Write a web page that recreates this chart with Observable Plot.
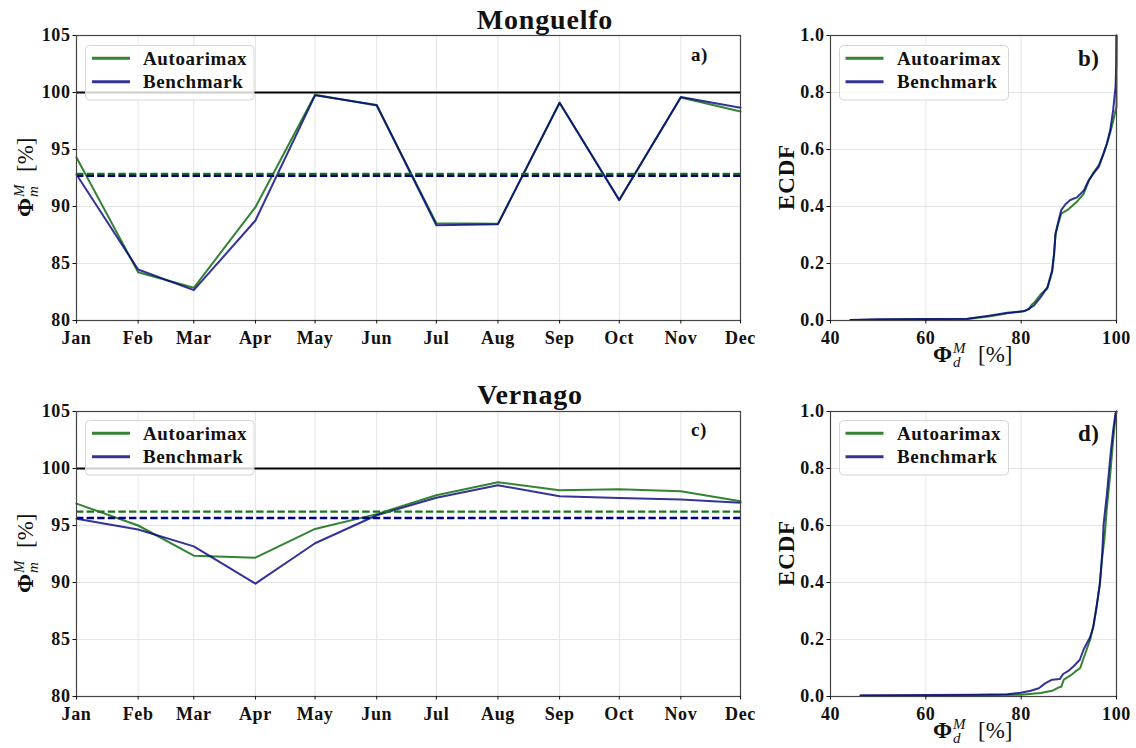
<!DOCTYPE html>
<html>
<head>
<meta charset="utf-8">
<script src="https://cdn.jsdelivr.net/npm/d3@7"></script>
<script src="https://cdn.jsdelivr.net/npm/@observablehq/plot@0.6"></script>
<style>
  html, body { margin: 0; padding: 0; background: #fff; }
  #root { position: relative; width: 1136px; height: 748px; overflow: hidden; background: #fff; }
  #root > svg { position: absolute; }
  #root svg g[aria-label="x-axis tick label"] text,
  #root svg g[aria-label="y-axis tick label"] text { letter-spacing: 0.6px; }
</style>
</head>
<body>
<div id="root"></div>
<script>
// ---------------- DATA ----------------
const months = ["Jan","Feb","Mar","Apr","May","Jun","Jul","Aug","Sep","Oct","Nov","Dec"];
const seriesNames = ["Autoarimax", "Benchmark"];

const monguelfoAuto  = [94.3, 84.24, 82.87, 89.94, 99.8, 98.86, 88.54, 88.48, 99.1, 90.6, 99.56, 98.33];
const monguelfoBench = [92.8, 84.47, 82.66, 88.77, 99.75, 98.9, 88.36, 88.45, 99.1, 90.55, 99.6, 98.66];
const monguelfoMeanAuto = 92.87;
const monguelfoMeanBench = 92.69;

const vernagoAuto  = [96.92, 95.0, 92.35, 92.18, 94.7, 96.0, 97.65, 98.8, 98.09, 98.18, 98.0, 97.12];
const vernagoBench = [95.59, 94.65, 93.17, 89.9, 93.44, 95.9, 97.44, 98.53, 97.56, 97.41, 97.27, 97.0];
const vernagoMeanAuto = 96.22;
const vernagoMeanBench = 95.66;

const referenceLevel = 100;

// ECDF curves (Phi_d^M [%], cumulative fraction)
const ecdfMonguelfoAutoX  = [44.2, 60, 68.7, 73.6, 77.1, 80.6, 81.6, 82.2, 82.7, 84.1, 85.5, 86.5, 86.9, 87.2, 87.7, 88.4, 89.9, 91.7, 93.1, 94.2, 95.2, 96.3, 97.3, 98.0, 98.7, 99.3, 99.7, 100, 100];
const ecdfMonguelfoAutoY  = [0.002, 0.004, 0.005, 0.015, 0.025, 0.032, 0.040, 0.055, 0.062, 0.092, 0.112, 0.17, 0.23, 0.30, 0.335, 0.375, 0.39, 0.417, 0.444, 0.49, 0.52, 0.545, 0.585, 0.62, 0.66, 0.70, 0.73, 0.75, 1.0];
const ecdfMonguelfoBenchX = [44.2, 50, 60, 68.7, 73.6, 77.1, 80.6, 81.6, 82.7, 84.1, 85.5, 86.5, 86.9, 87.2, 87.7, 88.4, 89.3, 90.3, 91.7, 93.1, 94.2, 95.2, 96.3, 97.3, 98.0, 98.7, 99.3, 99.8, 99.95, 100];
const ecdfMonguelfoBenchY = [0.002, 0.004, 0.005, 0.006, 0.018, 0.027, 0.033, 0.041, 0.053, 0.082, 0.117, 0.176, 0.235, 0.305, 0.34, 0.387, 0.408, 0.423, 0.432, 0.455, 0.493, 0.516, 0.54, 0.587, 0.622, 0.669, 0.739, 0.82, 0.9, 1.0];

const ecdfVernagoAutoX  = [46.3, 60, 79.9, 84.1, 86.5, 87.9, 88.4, 88.95, 90.35, 91.4, 92.4, 93.1, 94.5, 95.2, 95.9, 96.5, 97.0, 97.5, 98.0, 98.7, 99.3, 99.8, 100];
const ecdfVernagoAutoY  = [0.002, 0.003, 0.006, 0.012, 0.02, 0.032, 0.034, 0.059, 0.074, 0.088, 0.1, 0.135, 0.2, 0.253, 0.324, 0.394, 0.488, 0.559, 0.665, 0.782, 0.9, 0.982, 1.0];
const ecdfVernagoBenchX = [46.3, 60, 70.1, 77.1, 79.9, 82.0, 83.7, 85.1, 86.5, 88.1, 88.8, 90.0, 91.0, 92.3, 93.1, 94.4, 95.1, 95.8, 96.5, 97.0, 97.3, 98.0, 98.7, 99.3, 99.8, 100];
const ecdfVernagoBenchY = [0.004, 0.005, 0.006, 0.008, 0.013, 0.02, 0.029, 0.047, 0.059, 0.061, 0.079, 0.091, 0.106, 0.129, 0.165, 0.206, 0.241, 0.312, 0.394, 0.5, 0.606, 0.712, 0.841, 0.935, 0.994, 1.0];

const yTicksMonthly = [80, 85, 90, 95, 100, 105];
const xTicksEcdf = [40, 60, 80, 100];
const yTicksEcdf = [0, 0.2, 0.4, 0.6, 0.8, 1.0];

// ---------------- STYLE ----------------
const GREEN = "#006400", BLUE = "#000080";
const GREEN_DASH = "#1a751a", BLUE_DASH = "#00008b";
const GRID = "#e2e2e2";
const FONT = "'Liberation Serif', 'DejaVu Serif', serif";
const svgStyle = {fontFamily: FONT, fontSize: "18px", fontWeight: "bold", color: "#111", background: "transparent", overflow: "visible"};
const DASH = "7.4,3.2";

const dates = months.map((m, i) => new Date(Date.UTC(2021, i, 1)));

function monthPanel(auto, bench, meanA, meanB) {
  const rows = (vals, s) => vals.map((v, i) => ({date: dates[i], v, s}));
  return Plot.plot({
    width: 760, height: 370,
    marginLeft: 76, marginRight: 20, marginTop: 35, marginBottom: 50,
    style: svgStyle,
    x: {type: "utc", domain: [dates[0], dates[11]]},
    y: {domain: [80, 105]},
    marks: [
      Plot.gridX(dates, {stroke: GRID, strokeOpacity: 1, strokeWidth: 0.9}),
      Plot.gridY(yTicksMonthly, {stroke: GRID, strokeOpacity: 1, strokeWidth: 0.9}),
      Plot.ruleY([referenceLevel], {stroke: "#000", strokeWidth: 2}),
      Plot.line(rows(auto, seriesNames[0]), {x: "date", y: "v", stroke: GREEN, strokeOpacity: 0.8, strokeWidth: 2}),
      Plot.line(rows(bench, seriesNames[1]), {x: "date", y: "v", stroke: BLUE, strokeOpacity: 0.8, strokeWidth: 2}),
      Plot.ruleY([meanA], {stroke: GREEN_DASH, strokeWidth: 2.3, strokeDasharray: DASH}),
      Plot.ruleY([meanB], {stroke: BLUE_DASH, strokeWidth: 2.3, strokeDasharray: DASH}),
      Plot.frame({stroke: "#444", strokeWidth: 1.2}),
      Plot.axisX(dates, {tickFormat: d => months[d.getUTCMonth()], tickSize: 3.5, tickPadding: 7, label: null, fontSize: 18, fontWeight: "bold"}),
      Plot.axisY(yTicksMonthly, {tickSize: 3.5, tickPadding: 2.5, label: null, fontSize: 18, fontWeight: "bold", tickFormat: d3.format("d")})
    ]
  });
}

function ecdfPanel(ax, ay, bx, by) {
  const rows = (xs, ys, s) => xs.map((x, i) => ({x, y: ys[i], s}));
  return Plot.plot({
    width: 396, height: 370,
    marginLeft: 90, marginRight: 20, marginTop: 35, marginBottom: 50,
    style: svgStyle,
    x: {domain: [40, 100]},
    y: {domain: [0, 1]},
    marks: [
      Plot.gridX(xTicksEcdf, {stroke: GRID, strokeOpacity: 1, strokeWidth: 0.9}),
      Plot.gridY(yTicksEcdf, {stroke: GRID, strokeOpacity: 1, strokeWidth: 0.9}),
      Plot.line(rows(ax, ay, seriesNames[0]), {x: "x", y: "y", stroke: GREEN, strokeOpacity: 0.8, strokeWidth: 2}),
      Plot.line(rows(bx, by, seriesNames[1]), {x: "x", y: "y", stroke: BLUE, strokeOpacity: 0.8, strokeWidth: 2}),
      Plot.frame({stroke: "#444", strokeWidth: 1.2}),
      Plot.axisX(xTicksEcdf, {tickSize: 3.5, tickPadding: 7, label: null, fontSize: 18, fontWeight: "bold"}),
      Plot.axisY(yTicksEcdf, {tickSize: 3.5, tickPadding: 2.5, label: null, fontSize: 18, fontWeight: "bold", tickFormat: d3.format(".1f")})
    ]
  });
}

const root = document.getElementById("root");
function place(svg, left, top) {
  svg.style.position = "absolute";
  svg.style.left = left + "px";
  svg.style.top = top + "px";
  root.appendChild(svg);
}
place(monthPanel(monguelfoAuto, monguelfoBench, monguelfoMeanAuto, monguelfoMeanBench), 0, 0);
place(monthPanel(vernagoAuto, vernagoBench, vernagoMeanAuto, vernagoMeanBench), 0, 376);
place(ecdfPanel(ecdfMonguelfoAutoX, ecdfMonguelfoAutoY, ecdfMonguelfoBenchX, ecdfMonguelfoBenchY), 740, 0);
place(ecdfPanel(ecdfVernagoAutoX, ecdfVernagoAutoY, ecdfVernagoBenchX, ecdfVernagoBenchY), 740, 376);

// ---------------- OVERLAY TEXT / LEGENDS ----------------
const ov = d3.select(root).append("svg")
  .attr("width", 1136).attr("height", 748)
  .style("left", "0px").style("top", "0px")
  .style("font-family", FONT).style("fill", "#111");

function title(text, cx, baseline) {
  ov.append("text").attr("x", cx).attr("y", baseline).attr("text-anchor", "middle")
    .style("font-size", "28px").style("font-weight", "bold").style("letter-spacing", "0.8px").text(text);
}
title("Monguelfo", 545, 29);
title("Vernago", 530, 404);

function panelLabel(text, x, baseline, size) {
  ov.append("text").attr("x", x).attr("y", baseline)
    .style("font-size", size + "px").style("font-weight", "bold").style("letter-spacing", "0.5px").text(text);
}
panelLabel("a)", 691, 61, 19);
panelLabel("b)", 1078, 66, 23);
panelLabel("c)", 691, 436, 19);
panelLabel("d)", 1078, 441, 23);

function legend(x, y, w, h, lineX, textX) {
  const g = ov.append("g");
  g.append("rect").attr("x", x).attr("y", y).attr("width", w).attr("height", h).attr("rx", 4)
    .attr("fill", "#fff").attr("fill-opacity", 0.8).attr("stroke", "#d6d6d6").attr("stroke-width", 1);
  const items = [[seriesNames[0], GREEN, 12.8], [seriesNames[1], BLUE, 36.3]];
  for (const [name, col, dy] of items) {
    g.append("line").attr("x1", lineX).attr("x2", lineX + 38).attr("y1", y + dy).attr("y2", y + dy)
      .attr("stroke", col).attr("stroke-opacity", 0.8).attr("stroke-width", 3);
    g.append("text").attr("x", textX).attr("y", y + dy + 6.5)
      .style("font-size", "19px").style("font-weight", "bold").style("letter-spacing", "0.6px").text(name);
  }
}
legend(85.5, 45.5, 168.5, 54.5, 92, 143);
legend(85.5, 420.5, 168.5, 54.5, 92, 143);
legend(839.5, 45.5, 169, 54.5, 845.5, 897);
legend(839.5, 420.5, 169, 54.5, 845.5, 897);

// Phi label: rotated (y) or horizontal (x)
function phiLabel(tx, ty, rotate, sub) {
  const g = ov.append("g").attr("transform", `translate(${tx},${ty})` + (rotate ? " rotate(-90)" : ""));
  g.append("text").attr("x", 0).attr("y", 0).style("font-size", "23px").style("font-weight", "bold").text("Φ");
  g.append("text").attr("x", 20).attr("y", -9).style("font-size", "15px").style("font-style", "italic").style("font-weight", "normal").text("M");
  g.append("text").attr("x", 20).attr("y", 5).style("font-size", "15px").style("font-style", "italic").style("font-weight", "normal").text(sub);
  g.append("text").attr("x", 45).attr("y", 0).style("font-size", "23px").style("font-weight", "normal").text("[%]");
}
phiLabel(33, 217, true, "m");
phiLabel(33, 593, true, "m");
phiLabel(933, 362, false, "d");
phiLabel(933, 738, false, "d");

function ecdfLabel(cx, cy) {
  ov.append("text").attr("transform", `translate(${cx},${cy}) rotate(-90)`).attr("text-anchor", "middle")
    .style("font-size", "23px").style("font-weight", "bold").style("letter-spacing", "0.8px").text("ECDF");
}
ecdfLabel(794, 177);
ecdfLabel(794, 553);
</script>
</body>
</html>
